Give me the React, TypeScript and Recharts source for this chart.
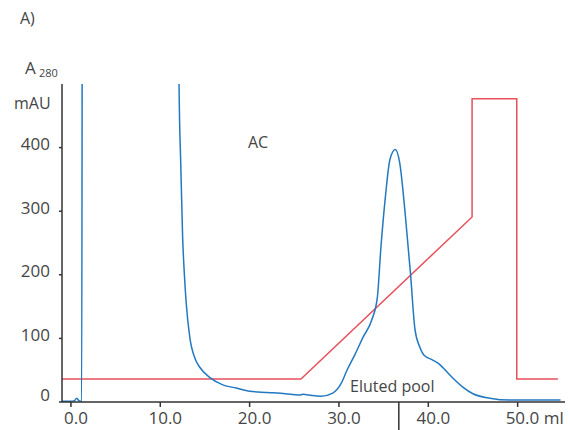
import React from "react";
import { LineChart, Line, XAxis, YAxis, ReferenceLine } from "recharts";

// UV trace (A280, mAU) vs volume (ml)
const uvVolume = [
  -1, 0, 0.4, 0.65, 0.9, 1.2, 1.3, 11.9, 12.1, 12.3, 12.5, 12.7, 12.9, 13.3,
  13.9, 14.4, 15.6, 17.0, 18.5, 20.0, 22.0, 24.0, 25.5, 26.0, 26.6, 28.0, 29.3,
  30.2, 30.9, 31.8, 32.7, 33.7, 34.3, 34.7, 35.2, 35.7, 36.3, 36.8, 37.4, 38.0,
  38.5, 39.0, 39.5, 40.5, 41.2, 41.7, 42.8, 43.9, 45.0, 46.9, 49.2, 54.8,
];
const uvAbs = [
  1, 1, 2, 6, 2, 1, 900, 900, 500, 370, 260, 200, 156, 102, 68, 55, 38, 27, 22,
  17, 15, 13, 11, 12, 11, 9, 14, 28, 50, 75, 102, 130, 165, 244, 323, 381, 397,
  376, 298, 203, 115, 88, 74, 66, 60, 53, 37, 23, 13, 6, 3, 3,
];

// gradient / conductivity trace, same scale
const gradVolume = [-1, 25.75, 44.9, 44.9, 49.9, 49.9, 54.5];
const gradValue = [36, 36, 291, 477, 477, 36, 36];

const xTicks = [0, 10, 20, 30, 40, 50];
const yTicks = [0, 100, 200, 300, 400];
const poolMark = 36.7;

const uvData = uvVolume.map((x, i) => ({ x, y: uvAbs[i] }));
const gradData = gradVolume.map((x, i) => ({ x, y: gradValue[i] }));

const font = "'Open Sans', sans-serif";
const textColor = "#454545";
const axisColor = "#333333";

function XTick(props: any) {
  const { x, y, payload } = props;
  const v = payload.value as number;
  const label = v.toFixed(1);
  if (v === 50) {
    return (
      <text x={x - 12} y={y + 8} textAnchor="start" dominantBaseline="central" fill={textColor} fontSize={17} fontFamily={font}>
        {label} ml
      </text>
    );
  }
  return (
    <text x={x + 5} y={y + 8} textAnchor="middle" dominantBaseline="central" fill={textColor} fontSize={17} fontFamily={font}>
      {label}
    </text>
  );
}

function YTick(props: any) {
  const { x, y, payload } = props;
  const v = payload.value as number;
  return (
    <text x={x - 7} y={v === 0 ? y - 8 : y - 4} textAnchor="end" dominantBaseline="central" fill={textColor} fontSize={17} fontFamily={font}>
      {v}
    </text>
  );
}

export default function App() {
  return (
    <div style={{ position: "absolute", left: 0, top: 0, width: 570, height: 430, background: "#fff" }}>
      <LineChart width={570} height={430} margin={{ top: 84, right: 5, bottom: 0, left: 0 }}>
        <XAxis
          type="number"
          dataKey="x"
          domain={[-1, 55.3]}
          ticks={xTicks}
          allowDataOverflow
          height={28}
          tickSize={5}
          stroke={axisColor}
          strokeWidth={1.5}
          tick={<XTick />}
        />
        <YAxis
          type="number"
          dataKey="y"
          domain={[0, 500]}
          ticks={yTicks}
          allowDataOverflow
          width={62}
          tickSize={3}
          stroke={axisColor}
          strokeWidth={1.5}
          tick={<YTick />}
        />
        <Line
          data={gradData}
          dataKey="y"
          type="linear"
          stroke="#e8505c"
          strokeWidth={1.5}
          dot={false}
          isAnimationActive={false}
        />
        <Line
          data={uvData}
          dataKey="y"
          type="monotone"
          stroke="#2279c2"
          strokeWidth={1.5}
          dot={false}
          isAnimationActive={false}
        />
        <ReferenceLine
          segment={[{ x: poolMark, y: 0 }, { x: poolMark, y: -46 }]}
          ifOverflow="visible"
          stroke={axisColor}
          strokeWidth={1.5}
        />
      </LineChart>
      <svg width={570} height={430} style={{ position: "absolute", left: 0, top: 0, pointerEvents: "none" }}>
        <g fill={textColor} fontFamily={font} dominantBaseline="central">
          <text x={20} y={18} fontSize={16}>A)</text>
          <text x={25} y={67} fontSize={17}>A</text>
          <text x={39} y={72} fontSize={11}>280</text>
          <text x={14} y={103} fontSize={16}>mAU</text>
          <text x={248} y={142} fontSize={16}>AC</text>
          <text x={350} y={386} fontSize={16}>Eluted pool</text>
        </g>
      </svg>
    </div>
  );
}
